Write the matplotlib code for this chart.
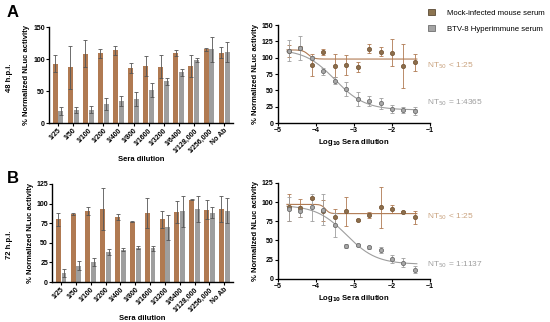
import numpy as np
import matplotlib.pyplot as plt
from matplotlib.patches import Patch

# sera dilutions (bar chart labels) and dilution factors used for the log plot
labels = ["1/25", "1/50", "1/100", "1/200", "1/400", "1/800", "1/1600",
          "1/3200", "1/6400", "1/128,000", "1/256,000", "No Ab"]
dil_factors = [25, 50, 100, 200, 400, 800, 1600, 3200, 6400, 12800, 25600, 51200]

# 48 h.p.i.
mock_48 = [93, 87, 108, 109, 114, 86, 89, 88, 109, 89, 115, 110]
mock_48_err = [13, 34, 21, 7, 7, 8, 15, 18, 5, 17, 3, 9]
btv_48 = [19, 20, 21, 30, 34, 37, 52, 65, 79, 99, 115, 111]
btv_48_err = [6, 5, 6, 9, 8, 11, 11, 5, 5, 3, 19, 16]

# 72 h.p.i.
mock_72 = [80, 87, 91, 93, 83, 77, 88, 80, 89, 105, 92, 93]
mock_72_err = [8, 1, 5, 27, 4, 1, 19, 11, 14, 1, 12, 17]
btv_72 = [12, 21, 26, 38, 41, 44, 43, 70, 90, 93, 88, 91]
btv_72_err = [5, 6, 5, 4, 2, 1.5, 3, 16, 20, 17, 7, 16]

# fitted curve parameters (top, bottom, logIC50, hill)
fit_mock_48 = (112, 98, -4.2, 6)
fit_btv_48 = (113, 20, -3.5, 1.1)
fit_mock_72 = (97, 85, -3.75, 8)
fit_btv_72 = (96, 19, -3.2, 1.1)

c_mock = "#b07a52"
c_mock_dark = "#7a5a3a"
c_mock_txt = "#c9a27e"
c_btv = "#9e9e9e"
c_btv_dark = "#6e6e6e"

plt.rcParams['font.family'] = ['Liberation Sans', 'DejaVu Sans']
plt.rcParams['axes.linewidth'] = 1.0

fig = plt.figure(figsize=(5.5, 3.22), dpi=100)


def style(ax):
    ax.spines['top'].set_visible(False)
    ax.spines['right'].set_visible(False)
    ax.tick_params(labelsize=5, length=2, width=0.8, pad=1)
    for t in ax.get_yticklabels() + ax.get_xticklabels():
        t.set_fontweight('bold')


def bars(ax, mock, mock_err, btv, btv_err, ymax, yticks):
    x = np.arange(len(labels))
    w = 0.33
    ekw = dict(elinewidth=0.6, capthick=0.6, ecolor="#555555")
    ax.bar(x - w / 2 - 0.03, mock, w, color=c_mock, yerr=mock_err, capsize=1.2, error_kw=ekw)
    ax.bar(x + w / 2 + 0.03, btv, w, color=c_btv, yerr=btv_err, capsize=1.2, error_kw=ekw)
    ax.set_xlim(-0.6, len(labels) - 0.4)
    ax.set_ylim(0, ymax)
    ax.set_yticks(yticks)
    ax.set_xticks(x)
    ax.set_xticklabels(labels, rotation=45, ha='right', rotation_mode='anchor')
    ax.set_ylabel("% Normalized NLuc activity", fontsize=5.5, fontweight='bold', labelpad=2)
    ax.set_xlabel("Sera dilution", fontsize=5.5, fontweight='bold', labelpad=1)
    style(ax)


def curve(ax, mock, mock_err, btv, btv_err, fm, fb, ymax, yticks, nt_mock, nt_btv, ym, yb):
    lx = -np.log10(dil_factors)
    xs = np.linspace(lx.min() - 0.05, lx.max() + 0.05, 200)
    for (top, bot, x0, h), col in [(fm, c_mock), (fb, c_btv)]:
        ys = bot + (top - bot) / (1 + 10 ** ((xs - x0) * h))
        ax.plot(xs, ys, color=col, lw=0.8)
    ax.errorbar(lx, mock, yerr=mock_err, fmt='o', ms=3, color=c_mock, mfc="#8c6e4c",
                mec=c_mock_dark, mew=0.6, ecolor=c_mock, elinewidth=0.6, capsize=1.5, capthick=0.6)
    ax.errorbar(lx, btv, yerr=btv_err, fmt='o', ms=3, color=c_btv, mfc="#a8a8a8",
                mec=c_btv_dark, mew=0.6, ecolor=c_btv, elinewidth=0.6, capsize=1.5, capthick=0.6)
    ax.set_xlim(-5, -1)
    ax.set_xticks([-5, -4, -3, -2, -1])
    ax.set_xticklabels(["\u22125", "\u22124", "\u22123", "\u22122", "\u22121"])
    ax.set_ylim(0, ymax)
    ax.set_yticks(yticks)
    ax.set_ylabel("% Normalized NLuc activity", fontsize=5.5, fontweight='bold', labelpad=2)
    ax.set_xlabel(r"Log$_{\mathbf{10}}$ Sera dilution", fontsize=5.5, fontweight='bold', labelpad=2)
    style(ax)
    ax.text(-1.08, ym, r"NT$_{50}$ " + nt_mock, fontsize=6, color=c_mock_txt, va='center', clip_on=False)
    ax.text(-1.08, yb, r"NT$_{50}$ " + nt_btv, fontsize=6, color=c_btv, va='center', clip_on=False)


ax1 = fig.add_axes([0.089, 0.618, 0.335, 0.298])
bars(ax1, mock_48, mock_48_err, btv_48, btv_48_err, 150, [0, 50, 100, 150])

ax2 = fig.add_axes([0.095, 0.124, 0.329, 0.305])
bars(ax2, mock_72, mock_72_err, btv_72, btv_72_err, 125, [0, 25, 50, 75, 100, 125])

ax3 = fig.add_axes([0.505, 0.618, 0.277, 0.304])
curve(ax3, mock_48, mock_48_err, btv_48, btv_48_err, fit_mock_48, fit_btv_48,
      150, [0, 25, 50, 75, 100, 125, 150], "< 1:25", "= 1:4365", 87, 31)

ax4 = fig.add_axes([0.505, 0.134, 0.277, 0.298])
curve(ax4, mock_72, mock_72_err, btv_72, btv_72_err, fit_mock_72, fit_btv_72,
      125, [0, 25, 50, 75, 100, 125], "< 1:25", "= 1:1137", 81, 19)

# legend
handles = [Patch(facecolor="#8c7450", edgecolor="#5a4a35", lw=0.6, label="Mock-infected mouse serum"),
           Patch(facecolor="#a4a4a4", edgecolor="#6e6e6e", lw=0.6, label="BTV-8 Hyperimmune serum")]
fig.legend(handles=handles, loc='upper left', bbox_to_anchor=(428 / 550, 1 - 9 / 322), frameon=False,
           fontsize=5.6, handlelength=0.9, handleheight=0.9, handletextpad=1.6, labelspacing=1.0,
           borderpad=0, borderaxespad=0)

fig.text(0.012, 0.985, "A", fontsize=12, fontweight='bold', va='top')
fig.text(0.012, 0.47, "B", fontsize=12, fontweight='bold', va='top')
fig.text(0.018, 0.76, "48 h.p.i.", fontsize=5.5, fontweight='bold', rotation=90, va='center', ha='center')
fig.text(0.018, 0.24, "72 h.p.i.", fontsize=5.5, fontweight='bold', rotation=90, va='center', ha='center')

fig.savefig("out.png", dpi=100)
